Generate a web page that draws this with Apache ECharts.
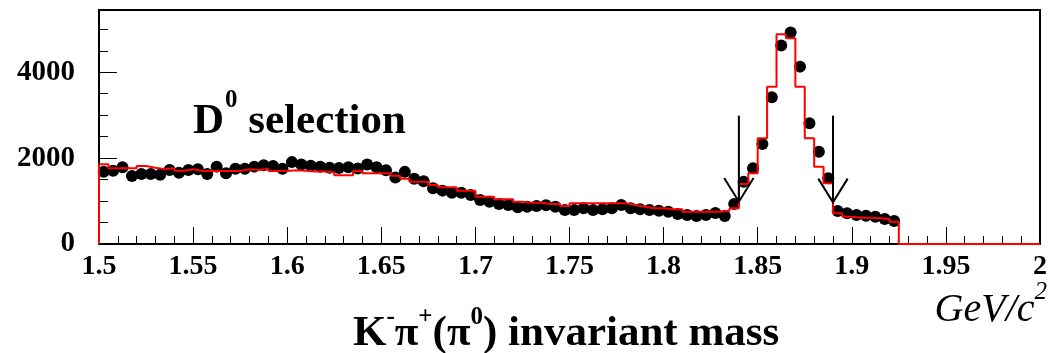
<!DOCTYPE html>
<html>
<head>
<meta charset="utf-8">
<script src="https://cdn.jsdelivr.net/npm/echarts@6/dist/echarts.min.js"></script>
<style>
html, body { margin: 0; padding: 0; background: #fff; }
#chart { width: 1051px; height: 353px; }
</style>
</head>
<body>
<div id="chart"></div>
<script>
// 5 MeV bins from 1.5 to 2.0 GeV/c^2
const binLow = 1.5;
const binWidth = 0.005;
const nBins = 100;

// data (black dots), bins 1.500 .. 1.925
const dataCounts = [
  1685, 1708, 1787, 1584, 1631, 1631, 1615, 1724, 1661, 1724,
  1740, 1631, 1802, 1646, 1755, 1755, 1802, 1833, 1818, 1755,
  1907, 1852, 1820, 1802, 1775, 1770, 1790, 1760, 1852, 1787,
  1720, 1550, 1680, 1520, 1460, 1297, 1243, 1196, 1196, 1142,
  1025, 986, 932, 909, 855, 870, 885, 905, 870, 792,
  792, 831, 792, 808, 831, 909, 831, 808, 792, 777,
  753, 699, 676, 652, 676, 720, 652, 932, 1452, 1763,
  2330, 3418, 4621, 4924, 4131, 2812, 2151, 1531, 769, 715,
  676, 660, 637, 583, 536
];

// MC (red histogram), bins 1.500 .. 1.925, empty above
const mcCounts = [
  1857, 1763, 1763, 1763, 1817, 1775, 1740, 1763, 1708, 1740,
  1700, 1700, 1700, 1700, 1700, 1740, 1724, 1750, 1700, 1700,
  1720, 1708, 1690, 1690, 1670, 1600, 1600, 1700, 1650, 1646,
  1646, 1592, 1520, 1452, 1452, 1375, 1321, 1321, 1243, 1243,
  1102, 1102, 1041, 1041, 986, 962, 962, 932, 932, 885,
  947, 947, 947, 947, 947, 947, 909, 870, 831, 831,
  808, 808, 753, 753, 753, 753, 776, 831, 1398, 1647,
  2461, 3665, 4886, 4793, 3665, 2461, 1802, 1414, 715, 637,
  614, 614, 600, 583, 520
];

// signal window arrows
const arrowX = [1.84, 1.89];
const arrowTop = 2990;
const arrowTip = [986, 972];

const yLabels = [0, 2000, 4000];

const serif = 'Liberation Serif';

const dotData = dataCounts.map((v, i) => [binLow + (i + 0.5) * binWidth, v]);
const histData = [[binLow, 0]];
for (let i = 0; i < nBins; i++) {
  histData.push([binLow + i * binWidth, i < mcCounts.length ? mcCounts[i] : 0]);
}
histData.push([binLow + nBins * binWidth, 0]);

const myChart = echarts.init(document.getElementById('chart'));

const option = {
  animation: false,
  backgroundColor: '#fff',
  textStyle: { fontFamily: serif },
  grid: {
    left: 99, right: 11, top: 10, bottom: 109,
    show: true, borderColor: '#000', borderWidth: 2
  },
  xAxis: {
    type: 'value',
    min: 1.5, max: 2, interval: 0.05,
    axisLine: { lineStyle: { color: '#000', width: 2 } },
    axisTick: { inside: true, length: 17, lineStyle: { color: '#000', width: 1 } },
    minorTick: { show: true, splitNumber: 5, length: 8, lineStyle: { color: '#000', width: 1 } },
    splitLine: { show: false },
    axisLabel: {
      color: '#000', fontFamily: serif, fontWeight: 'bold', fontSize: 28, margin: 9
    }
  },
  yAxis: [
    {
      type: 'value', position: 'left',
      min: 0, max: 5450, interval: 2000,
      axisLine: { show: true, lineStyle: { color: '#000', width: 2 } },
      axisTick: { show: true, inside: true, length: 18, lineStyle: { color: '#000', width: 1 } },
      splitLine: { show: false },
      axisLabel: {
        color: '#000', fontFamily: serif, fontWeight: 'bold', fontSize: 29, margin: 24,
        formatter: v => (yLabels.indexOf(v) >= 0 ? String(v) : '')
      }
    },
    {
      type: 'value', position: 'left',
      min: 0, max: 5450, interval: 500,
      axisLine: { show: false },
      axisTick: { show: true, inside: true, length: 9, lineStyle: { color: '#000', width: 1 } },
      splitLine: { show: false },
      axisLabel: { show: false }
    }
  ],
  series: [
    {
      type: 'scatter',
      data: dotData,
      symbol: 'circle',
      symbolSize: 12,
      itemStyle: { color: '#000', opacity: 1 },
      z: 2
    },
    {
      type: 'line',
      data: histData,
      step: 'end',
      showSymbol: false,
      clip: false,
      lineStyle: { color: '#ff0000', width: 2 },
      z: 3
    },
    {
      type: 'custom',
      data: arrowX.map((x, i) => [x, arrowTop, arrowTip[i]]),
      z: 4,
      renderItem: (params, api) => {
        const x = api.value(0);
        const top = api.coord([x, api.value(1)]);
        const tip = api.coord([x, api.value(2)]);
        const l = api.coord([x - 0.0078, api.value(2) + 550]);
        const r = api.coord([x + 0.0078, api.value(2) + 550]);
        const st = { stroke: '#000', lineWidth: 2, fill: null };
        return {
          type: 'group',
          children: [
            { type: 'polyline', shape: { points: [top, tip] }, style: st },
            { type: 'polyline', shape: { points: [l, tip, r] }, style: st }
          ]
        };
      }
    }
  ],
  graphic: [
    {
      type: 'text', left: 193, top: 85,
      style: {
        text: '{m|D}{s|0}{m| selection}',
        rich: {
          m: { fontFamily: serif, fontWeight: 'bold', fontSize: 43, lineHeight: 58, verticalAlign: 'bottom', fill: '#000' },
          s: { fontFamily: serif, fontWeight: 'bold', fontSize: 25, lineHeight: 25, verticalAlign: 'top', padding: [3, 0, 0, 1], fill: '#000' }
        }
      }
    },
    {
      type: 'text', left: 353, top: 297,
      style: {
        text: '{m|K}{s|-}{m|π}{s|+}{m|(π}{s|0}{m|) invariant mass}',
        rich: {
          m: { fontFamily: serif, fontWeight: 'bold', fontSize: 43, lineHeight: 58, verticalAlign: 'bottom', fill: '#000' },
          s: { fontFamily: serif, fontWeight: 'bold', fontSize: 25, lineHeight: 25, verticalAlign: 'top', padding: [8, 0, 0, 0], fill: '#000' }
        }
      }
    },
    {
      type: 'text', right: 4, top: 278,
      style: {
        text: '{m|GeV/c}{s|2}',
        rich: {
          m: { fontFamily: serif, fontStyle: 'italic', fontSize: 40, lineHeight: 52, verticalAlign: 'bottom', fill: '#000' },
          s: { fontFamily: serif, fontStyle: 'italic', fontSize: 25, lineHeight: 25, verticalAlign: 'top', padding: [2, 0, 0, 0], fill: '#000' }
        }
      }
    }
  ]
};

myChart.setOption(option);
</script>
</body>
</html>
